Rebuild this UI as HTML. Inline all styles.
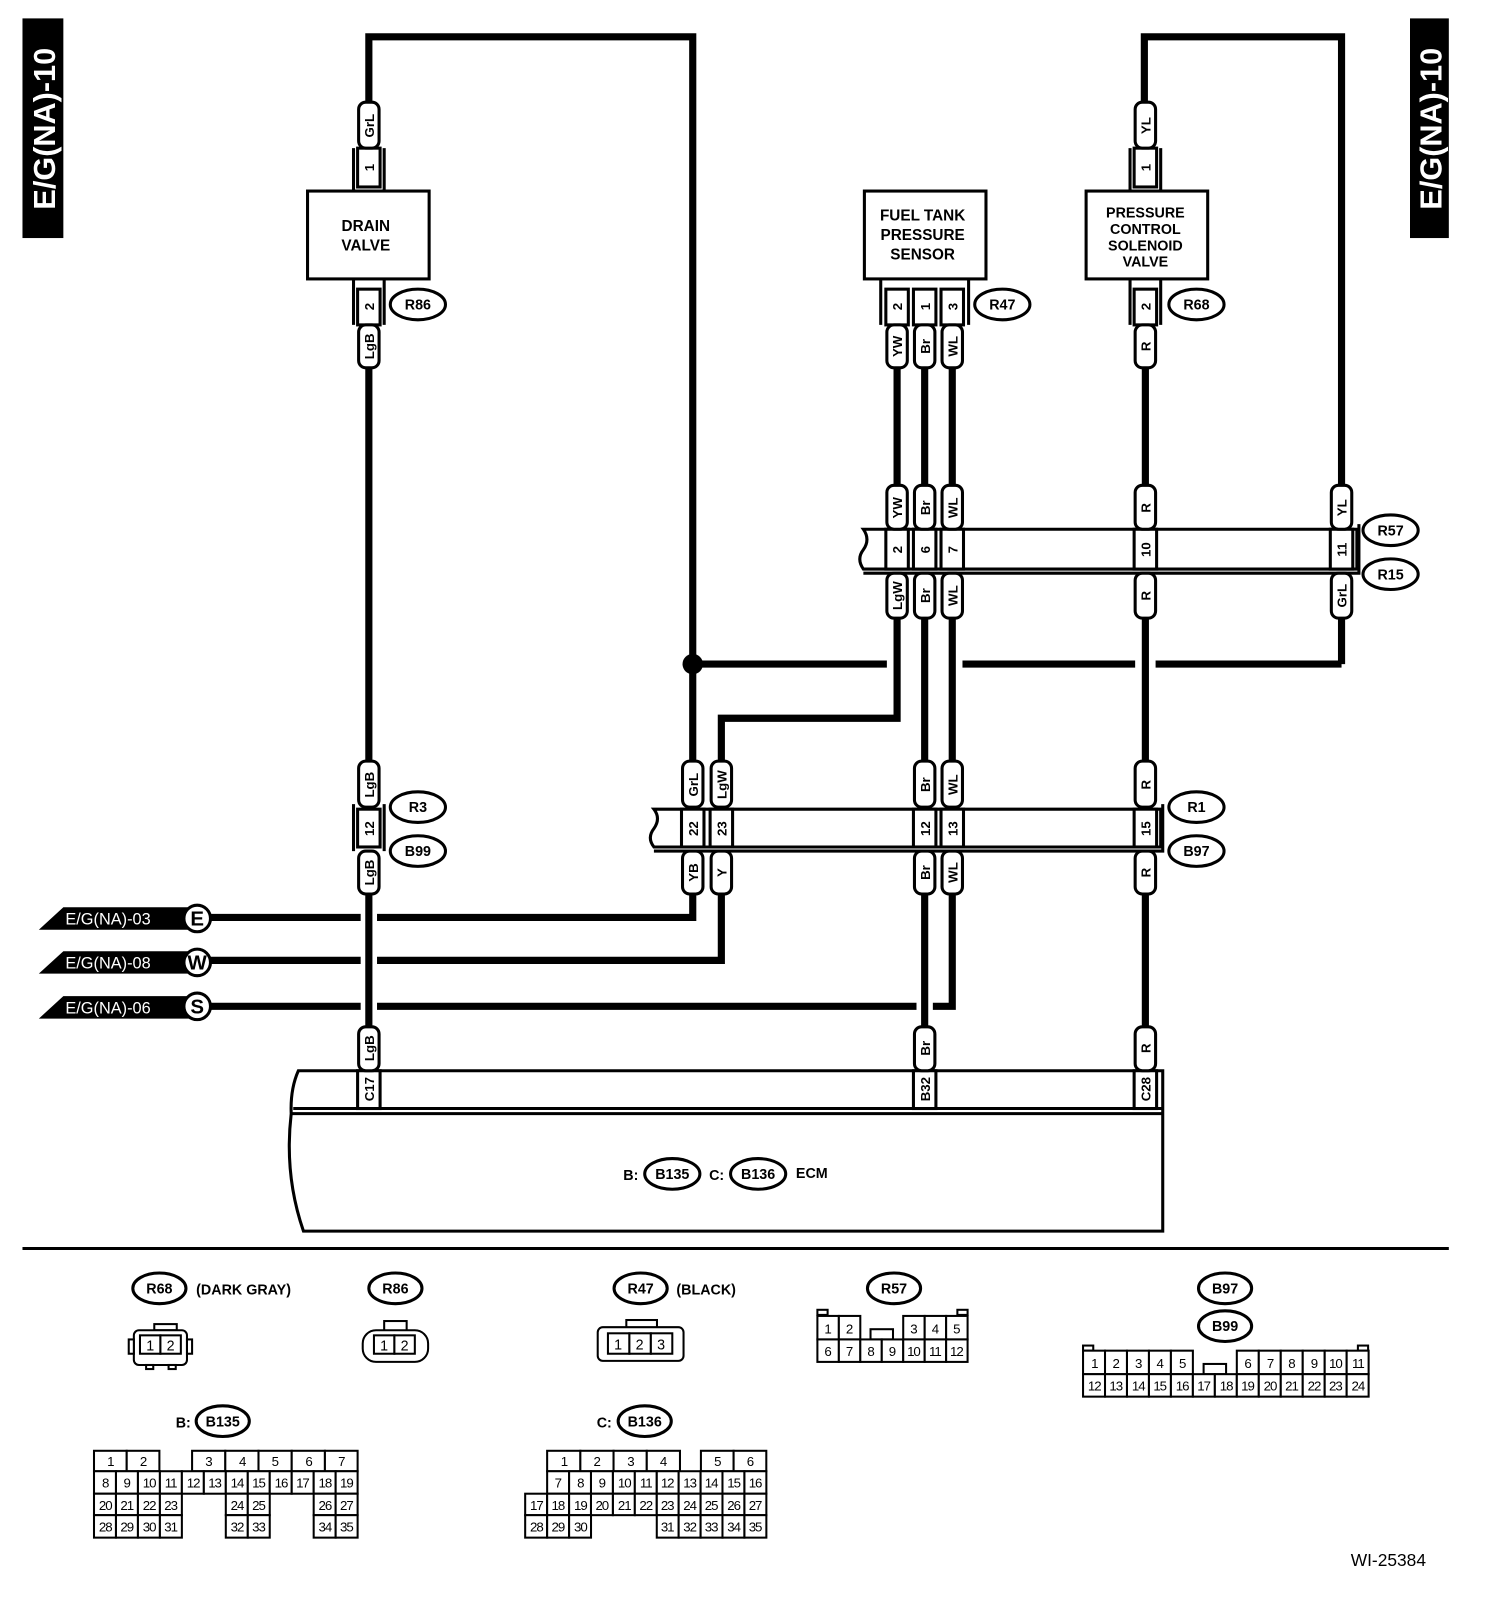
<!DOCTYPE html>
<html><head><meta charset="utf-8"><style>
html,body{margin:0;padding:0;background:#fff}
svg{display:block}
text{font-family:"Liberation Sans",Arial,sans-serif;fill:#000}
.t{font-size:13px;font-weight:bold;text-anchor:middle}
.b{font-size:15px;font-weight:bold;text-anchor:middle}
.w{fill:none;stroke:#000;stroke-width:7}
.o{fill:#fff;stroke:#000;stroke-width:3}
.g{fill:#fff;stroke:#000;stroke-width:2}
.n{font-size:14px;text-anchor:middle}
.m{font-size:13px;text-anchor:middle;letter-spacing:-1px}
</style></head><body>
<svg width="1504" height="1602" viewBox="0 0 1472 1568" preserveAspectRatio="none" xmlns="http://www.w3.org/2000/svg">
<rect x="0" y="0" width="1472" height="1568" fill="#fff"/>
<rect x="22" y="18" width="40" height="215" fill="#000"/>
<text transform="translate(54,126) rotate(-90)" style="font-size:30px;font-weight:bold;fill:#fff;text-anchor:middle">E/G(NA)-10</text>
<rect x="1380" y="18" width="38" height="215" fill="#000"/>
<text transform="translate(1411,126) rotate(-90)" style="font-size:30px;font-weight:bold;fill:#fff;text-anchor:middle">E/G(NA)-10</text>

<path class="w" d="M678,650 H1313"/>
<path class="w" d="M678,875 V898 H205"/>
<path class="w" d="M706,875 V940 H205"/>
<path class="w" d="M932,875 V985 H205"/>
<g fill="#fff">
<rect x="868" y="644" width="74" height="12"/><rect x="1111" y="644" width="20" height="12"/>
<rect x="353" y="892" width="16" height="12"/><rect x="353" y="934" width="16" height="12"/><rect x="353" y="979" width="16" height="12"/><rect x="897" y="979" width="16" height="12"/>
</g>
<path class="w" d="M361,100 V36 H678 V745"/>
<path class="w" d="M361,358 V745 M361,875 V1005"/>
<path class="w" d="M1313,605 V650 M1313,475 V36 H1120 V100"/>
<path class="w" d="M878,358 V475 M878,605 V703 H706 V745"/>
<path class="w" d="M905,358 V475 M905,605 V745 M905,875 V1005"/>
<path class="w" d="M932,358 V475 M932,605 V745"/>
<path class="w" d="M1121,318 V475 M1121,605 V745 M1121,875 V1005"/>
<circle cx="678" cy="650" r="10" fill="#000"/>

<rect x="301" y="187" width="119" height="86" class="o"/>
<text class="b" x="358" y="226">DRAIN</text><text class="b" x="358" y="245">VALVE</text>
<rect x="846" y="187" width="119" height="86" class="o"/>
<text class="b" x="903" y="216">FUEL TANK</text><text class="b" x="903" y="235">PRESSURE</text><text class="b" x="903" y="254">SENSOR</text>
<rect x="1063" y="187" width="119" height="86" class="o"/>
<text class="b" x="1121" y="213" style="font-size:14px">PRESSURE</text><text class="b" x="1121" y="229" style="font-size:14px">CONTROL</text><text class="b" x="1121" y="245" style="font-size:14px">SOLENOID</text><text class="b" x="1121" y="261" style="font-size:14px">VALVE</text>

<g stroke="#000" stroke-width="3" fill="none">
<path d="M346,145 V187 M376,145 V187 M346,273 V318 M376,273 V318"/>
<path d="M1106,145 V187 M1136,145 V187 M1106,273 V318 M1136,273 V318"/>
<path d="M862,273 V318 M948,273 V318"/>
<path d="M346,787 V833 M376,787 V833"/>
</g>
<g stroke="#000" stroke-width="3" fill="#fff">
<path d="M845,518 H1328 V557 H845 Q838,547 845,538 Q852,528 845,518 Z"/>
<path d="M845,561 H1330 V513" fill="none"/>
<path d="M640,792 H1136 V829 H640 Q633,820 640,811 Q647,801 640,792 Z"/>
<path d="M640,833 H1138 V787" fill="none"/>
<path d="M292,1048 H1138 V1205 H297 Q278,1150 285,1090 Q284,1066 292,1048 Z"/>
<path d="M287,1085 H1138 M285,1090 H1138" fill="none"/>
</g>

<g class="o">
<rect x="350" y="145" width="22" height="38"/><rect x="350" y="283" width="22" height="35"/>
<rect x="1110" y="145" width="22" height="38"/><rect x="1110" y="283" width="22" height="35"/>
<rect x="867" y="283" width="22" height="35"/><rect x="894" y="283" width="22" height="35"/><rect x="921" y="283" width="22" height="35"/>
<rect x="867" y="518" width="22" height="39"/><rect x="894" y="518" width="22" height="39"/><rect x="921" y="518" width="22" height="39"/><rect x="1110" y="518" width="22" height="39"/><rect x="1302" y="518" width="22" height="39"/>
<rect x="350" y="792" width="22" height="37"/><rect x="667" y="792" width="22" height="37"/><rect x="695" y="792" width="22" height="37"/><rect x="894" y="792" width="22" height="37"/><rect x="921" y="792" width="22" height="37"/><rect x="1110" y="792" width="22" height="37"/>
<rect x="350" y="1048" width="22" height="37"/><rect x="894" y="1048" width="22" height="37"/><rect x="1110" y="1048" width="22" height="37"/>
</g>
<g class="t">
<text transform="translate(366,164) rotate(-90)">1</text><text transform="translate(366,300) rotate(-90)">2</text>
<text transform="translate(1126,164) rotate(-90)">1</text><text transform="translate(1126,300) rotate(-90)">2</text>
<text transform="translate(883,300) rotate(-90)">2</text><text transform="translate(910,300) rotate(-90)">1</text><text transform="translate(937,300) rotate(-90)">3</text>
<text transform="translate(883,538) rotate(-90)">2</text><text transform="translate(910,538) rotate(-90)">6</text><text transform="translate(937,538) rotate(-90)">7</text><text transform="translate(1126,538) rotate(-90)">10</text><text transform="translate(1318,538) rotate(-90)">11</text>
<text transform="translate(366,811) rotate(-90)">12</text><text transform="translate(683,811) rotate(-90)">22</text><text transform="translate(711,811) rotate(-90)">23</text><text transform="translate(910,811) rotate(-90)">12</text><text transform="translate(937,811) rotate(-90)">13</text><text transform="translate(1126,811) rotate(-90)">15</text>
<text transform="translate(366,1066) rotate(-90)">C17</text><text transform="translate(910,1066) rotate(-90)">B32</text><text transform="translate(1126,1066) rotate(-90)">C28</text>
</g>

<g class="o">
<rect x="351" y="100" width="20" height="45" rx="7"/><rect x="351" y="318" width="20" height="42" rx="7"/>
<rect x="1111" y="100" width="20" height="45" rx="7"/><rect x="1111" y="318" width="20" height="42" rx="7"/>
<rect x="868" y="318" width="20" height="42" rx="7"/><rect x="895" y="318" width="20" height="42" rx="7"/><rect x="922" y="318" width="20" height="42" rx="7"/>
<rect x="868" y="475" width="20" height="43" rx="7"/><rect x="895" y="475" width="20" height="43" rx="7"/><rect x="922" y="475" width="20" height="43" rx="7"/><rect x="1111" y="475" width="20" height="43" rx="7"/><rect x="1303" y="475" width="20" height="43" rx="7"/>
<rect x="868" y="561" width="20" height="44" rx="7"/><rect x="895" y="561" width="20" height="44" rx="7"/><rect x="922" y="561" width="20" height="44" rx="7"/><rect x="1111" y="561" width="20" height="44" rx="7"/><rect x="1303" y="561" width="20" height="44" rx="7"/>
<rect x="351" y="745" width="20" height="45" rx="7"/><rect x="668" y="745" width="20" height="45" rx="7"/><rect x="696" y="745" width="20" height="45" rx="7"/><rect x="895" y="745" width="20" height="45" rx="7"/><rect x="922" y="745" width="20" height="45" rx="7"/><rect x="1111" y="745" width="20" height="45" rx="7"/>
<rect x="351" y="833" width="20" height="42" rx="7"/><rect x="668" y="833" width="20" height="42" rx="7"/><rect x="696" y="833" width="20" height="42" rx="7"/><rect x="895" y="833" width="20" height="42" rx="7"/><rect x="922" y="833" width="20" height="42" rx="7"/><rect x="1111" y="833" width="20" height="42" rx="7"/>
<rect x="351" y="1005" width="20" height="43" rx="7"/><rect x="895" y="1005" width="20" height="43" rx="7"/><rect x="1111" y="1005" width="20" height="43" rx="7"/>
</g>
<g class="t">
<text transform="translate(366,123) rotate(-90)">GrL</text><text transform="translate(366,339) rotate(-90)">LgB</text>
<text transform="translate(1126,123) rotate(-90)">YL</text><text transform="translate(1126,339) rotate(-90)">R</text>
<text transform="translate(883,339) rotate(-90)">YW</text><text transform="translate(910,339) rotate(-90)">Br</text><text transform="translate(937,339) rotate(-90)">WL</text>
<text transform="translate(883,497) rotate(-90)">YW</text><text transform="translate(910,497) rotate(-90)">Br</text><text transform="translate(937,497) rotate(-90)">WL</text><text transform="translate(1126,497) rotate(-90)">R</text><text transform="translate(1318,497) rotate(-90)">YL</text>
<text transform="translate(883,583) rotate(-90)">LgW</text><text transform="translate(910,583) rotate(-90)">Br</text><text transform="translate(937,583) rotate(-90)">WL</text><text transform="translate(1126,583) rotate(-90)">R</text><text transform="translate(1318,583) rotate(-90)">GrL</text>
<text transform="translate(366,768) rotate(-90)">LgB</text><text transform="translate(683,768) rotate(-90)">GrL</text><text transform="translate(711,768) rotate(-90)">LgW</text><text transform="translate(910,768) rotate(-90)">Br</text><text transform="translate(937,768) rotate(-90)">WL</text><text transform="translate(1126,768) rotate(-90)">R</text>
<text transform="translate(366,854) rotate(-90)">LgB</text><text transform="translate(683,854) rotate(-90)">YB</text><text transform="translate(711,854) rotate(-90)">Y</text><text transform="translate(910,854) rotate(-90)">Br</text><text transform="translate(937,854) rotate(-90)">WL</text><text transform="translate(1126,854) rotate(-90)">R</text>
<text transform="translate(366,1026) rotate(-90)">LgB</text><text transform="translate(910,1026) rotate(-90)">Br</text><text transform="translate(1126,1026) rotate(-90)">R</text>
</g>

<g class="o">
<ellipse cx="409" cy="298" rx="27" ry="15"/><ellipse cx="981" cy="298" rx="27" ry="15"/><ellipse cx="1171" cy="298" rx="27" ry="15"/>
<ellipse cx="1361" cy="519" rx="27" ry="15"/><ellipse cx="1361" cy="562" rx="27" ry="15"/>
<ellipse cx="409" cy="790" rx="27" ry="15"/><ellipse cx="409" cy="833" rx="27" ry="15"/>
<ellipse cx="1171" cy="790" rx="27" ry="15"/><ellipse cx="1171" cy="833" rx="27" ry="15"/>
<ellipse cx="658" cy="1149" rx="27" ry="15"/><ellipse cx="742" cy="1149" rx="27" ry="15"/>
</g>
<g class="t" style="font-size:14px">
<text x="409" y="303">R86</text><text x="981" y="303">R47</text><text x="1171" y="303">R68</text>
<text x="1361" y="524">R57</text><text x="1361" y="567">R15</text>
<text x="409" y="795">R3</text><text x="409" y="838">B99</text>
<text x="1171" y="795">R1</text><text x="1171" y="838">B97</text>
<text x="658" y="1154">B135</text><text x="742" y="1154">B136</text>
</g>
<text x="610" y="1155" style="font-size:14px;font-weight:bold">B:</text>
<text x="694" y="1155" style="font-size:14px;font-weight:bold">C:</text>
<text x="779" y="1153" style="font-size:14px;font-weight:bold">ECM</text>

<g>
<polygon points="38,910 62,888 185,888 185,910" fill="#000"/>
<polygon points="38,953 62,931 185,931 185,953" fill="#000"/>
<polygon points="38,997 62,975 185,975 185,997" fill="#000"/>
<text x="64" y="905" style="font-size:16px;fill:#fff">E/G(NA)-03</text>
<text x="64" y="948" style="font-size:16px;fill:#fff">E/G(NA)-08</text>
<text x="64" y="992" style="font-size:16px;fill:#fff">E/G(NA)-06</text>
<circle cx="193" cy="899" r="13" class="o"/><circle cx="193" cy="942" r="13" class="o"/><circle cx="193" cy="985" r="13" class="o"/>
<text x="193" y="906" style="font-size:20px;font-weight:bold;text-anchor:middle">E</text>
<text x="193" y="949" style="font-size:20px;font-weight:bold;text-anchor:middle">W</text>
<text x="193" y="992" style="font-size:20px;font-weight:bold;text-anchor:middle">S</text>
</g>

<line x1="22" y1="1222" x2="1418" y2="1222" stroke="#000" stroke-width="3"/>

<g class="o">
<ellipse cx="156" cy="1261" rx="26" ry="15"/><ellipse cx="387" cy="1261" rx="26" ry="15"/><ellipse cx="627" cy="1261" rx="26" ry="15"/><ellipse cx="875" cy="1261" rx="26" ry="15"/>
<ellipse cx="1199" cy="1261" rx="26" ry="15"/><ellipse cx="1199" cy="1298" rx="26" ry="15"/>
<ellipse cx="218" cy="1391" rx="26" ry="15"/><ellipse cx="631" cy="1391" rx="26" ry="15"/>
</g>
<g class="t" style="font-size:14px">
<text x="156" y="1266">R68</text><text x="387" y="1266">R86</text><text x="627" y="1266">R47</text><text x="875" y="1266">R57</text>
<text x="1199" y="1266">B97</text><text x="1199" y="1303">B99</text><text x="218" y="1396">B135</text><text x="631" y="1396">B136</text>
</g>
<text x="192" y="1267" style="font-size:14px;font-weight:bold">(DARK GRAY)</text>
<text x="662" y="1267" style="font-size:14px;font-weight:bold">(BLACK)</text>
<text x="172" y="1397" style="font-size:14px;font-weight:bold">B:</text>
<text x="584" y="1397" style="font-size:14px;font-weight:bold">C:</text>

<g class="g">
<rect x="151" y="1296" width="22" height="6"/>
<rect x="131" y="1302" width="52" height="34" rx="5"/>
<rect x="126" y="1311" width="5" height="14"/><rect x="183" y="1311" width="5" height="14"/>
<rect x="143" y="1336" width="7" height="4"/><rect x="165" y="1336" width="7" height="4"/>
<rect x="137" y="1307" width="20" height="18"/><rect x="157" y="1307" width="20" height="18"/>
</g>
<g class="g">
<rect x="376" y="1293" width="22" height="10"/>
<rect x="355" y="1302" width="64" height="31" rx="13"/>
<rect x="366" y="1307" width="20" height="18"/><rect x="386" y="1307" width="20" height="18"/>
</g>
<g class="g">
<rect x="613" y="1292" width="30" height="8"/>
<rect x="585" y="1299" width="84" height="33" rx="5"/>
<rect x="595" y="1305" width="21" height="20"/><rect x="616" y="1305" width="21" height="20"/><rect x="637" y="1305" width="21" height="20"/>
</g>
<g class="n">
<text x="147" y="1322">1</text><text x="167" y="1322">2</text>
<text x="376" y="1322">1</text><text x="396" y="1322">2</text>
<text x="605" y="1321">1</text><text x="626" y="1321">2</text><text x="647" y="1321">3</text>
</g>

<g class="g">
<rect x="800" y="1282" width="10" height="5"/><rect x="937" y="1282" width="10" height="5"/>
<rect x="800" y="1288" width="21" height="23"/><rect x="821" y="1288" width="21" height="23"/>
<rect x="852" y="1301" width="22" height="10"/>
<rect x="884" y="1288" width="21" height="23"/><rect x="905" y="1288" width="21" height="23"/><rect x="926" y="1288" width="21" height="23"/>
<rect x="800" y="1311" width="21" height="22"/><rect x="821" y="1311" width="21" height="22"/><rect x="842" y="1311" width="21" height="22"/><rect x="863" y="1311" width="21" height="22"/><rect x="884" y="1311" width="21" height="22"/><rect x="905" y="1311" width="21" height="22"/><rect x="926" y="1311" width="21" height="22"/>
</g>
<g class="m">
<text x="810" y="1305">1</text><text x="831" y="1305">2</text><text x="894" y="1305">3</text><text x="915" y="1305">4</text><text x="936" y="1305">5</text>
<text x="810" y="1327">6</text><text x="831" y="1327">7</text><text x="852" y="1327">8</text><text x="873" y="1327">9</text><text x="894" y="1327">10</text><text x="915" y="1327">11</text><text x="936" y="1327">12</text>
</g>

<g class="g">
<rect x="1060" y="1317" width="10" height="5"/><rect x="1329" y="1317" width="10" height="5"/>
<rect x="1060" y="1322" width="21.5" height="23"/><rect x="1081.5" y="1322" width="21.5" height="23"/><rect x="1103" y="1322" width="21.5" height="23"/><rect x="1124.5" y="1322" width="21.5" height="23"/><rect x="1146" y="1322" width="21.5" height="23"/>
<rect x="1178" y="1335" width="22" height="10"/>
<rect x="1210.5" y="1322" width="21.5" height="23"/><rect x="1232" y="1322" width="21.5" height="23"/><rect x="1253.5" y="1322" width="21.5" height="23"/><rect x="1275" y="1322" width="21.5" height="23"/><rect x="1296.5" y="1322" width="21.5" height="23"/><rect x="1318" y="1322" width="21.5" height="23"/>
<rect x="1060" y="1345" width="21.5" height="22"/><rect x="1081.5" y="1345" width="21.5" height="22"/><rect x="1103" y="1345" width="21.5" height="22"/><rect x="1124.5" y="1345" width="21.5" height="22"/><rect x="1146" y="1345" width="21.5" height="22"/><rect x="1167.5" y="1345" width="21.5" height="22"/><rect x="1189" y="1345" width="21.5" height="22"/><rect x="1210.5" y="1345" width="21.5" height="22"/><rect x="1232" y="1345" width="21.5" height="22"/><rect x="1253.5" y="1345" width="21.5" height="22"/><rect x="1275" y="1345" width="21.5" height="22"/><rect x="1296.5" y="1345" width="21.5" height="22"/><rect x="1318" y="1345" width="21.5" height="22"/>
</g>
<g class="m">
<text x="1071" y="1339">1</text><text x="1092" y="1339">2</text><text x="1114" y="1339">3</text><text x="1135" y="1339">4</text><text x="1157" y="1339">5</text>
<text x="1221" y="1339">6</text><text x="1243" y="1339">7</text><text x="1264" y="1339">8</text><text x="1286" y="1339">9</text><text x="1307" y="1339">10</text><text x="1329" y="1339">11</text>
<text x="1071" y="1361">12</text><text x="1092" y="1361">13</text><text x="1114" y="1361">14</text><text x="1135" y="1361">15</text><text x="1157" y="1361">16</text><text x="1178" y="1361">17</text><text x="1200" y="1361">18</text><text x="1221" y="1361">19</text><text x="1243" y="1361">20</text><text x="1264" y="1361">21</text><text x="1286" y="1361">22</text><text x="1307" y="1361">23</text><text x="1329" y="1361">24</text>
</g>

<g class="g">
<rect x="92" y="1420" width="32" height="20"/><rect x="124" y="1420" width="32" height="20"/>
<rect x="188" y="1420" width="32.5" height="20"/><rect x="220.5" y="1420" width="32.5" height="20"/><rect x="253" y="1420" width="32.5" height="20"/><rect x="285.5" y="1420" width="32.5" height="20"/><rect x="318" y="1420" width="32" height="20"/>
<rect x="92" y="1440" width="21.5" height="22"/><rect x="113.5" y="1440" width="21.5" height="22"/><rect x="135" y="1440" width="21.5" height="22"/><rect x="156.5" y="1440" width="21.5" height="22"/><rect x="178" y="1440" width="21.5" height="22"/><rect x="199.5" y="1440" width="21.5" height="22"/><rect x="221" y="1440" width="21.5" height="22"/><rect x="242.5" y="1440" width="21.5" height="22"/><rect x="264" y="1440" width="21.5" height="22"/><rect x="285.5" y="1440" width="21.5" height="22"/><rect x="307" y="1440" width="21.5" height="22"/><rect x="328.5" y="1440" width="21.5" height="22"/>
<rect x="92" y="1462" width="21.5" height="21"/><rect x="113.5" y="1462" width="21.5" height="21"/><rect x="135" y="1462" width="21.5" height="21"/><rect x="156.5" y="1462" width="21.5" height="21"/><rect x="221" y="1462" width="21.5" height="21"/><rect x="242.5" y="1462" width="21.5" height="21"/><rect x="307" y="1462" width="21.5" height="21"/><rect x="328.5" y="1462" width="21.5" height="21"/>
<rect x="92" y="1483" width="21.5" height="22"/><rect x="113.5" y="1483" width="21.5" height="22"/><rect x="135" y="1483" width="21.5" height="22"/><rect x="156.5" y="1483" width="21.5" height="22"/><rect x="221" y="1483" width="21.5" height="22"/><rect x="242.5" y="1483" width="21.5" height="22"/><rect x="307" y="1483" width="21.5" height="22"/><rect x="328.5" y="1483" width="21.5" height="22"/>
</g>
<g class="m">
<text x="108" y="1435">1</text><text x="140" y="1435">2</text><text x="204" y="1435">3</text><text x="237" y="1435">4</text><text x="269" y="1435">5</text><text x="302" y="1435">6</text><text x="334" y="1435">7</text>
<text x="103" y="1456">8</text><text x="124" y="1456">9</text><text x="146" y="1456">10</text><text x="167" y="1456">11</text><text x="189" y="1456">12</text><text x="210" y="1456">13</text><text x="232" y="1456">14</text><text x="253" y="1456">15</text><text x="275" y="1456">16</text><text x="296" y="1456">17</text><text x="318" y="1456">18</text><text x="339" y="1456">19</text>
<text x="103" y="1478">20</text><text x="124" y="1478">21</text><text x="146" y="1478">22</text><text x="167" y="1478">23</text><text x="232" y="1478">24</text><text x="253" y="1478">25</text><text x="318" y="1478">26</text><text x="339" y="1478">27</text>
<text x="103" y="1499">28</text><text x="124" y="1499">29</text><text x="146" y="1499">30</text><text x="167" y="1499">31</text><text x="232" y="1499">32</text><text x="253" y="1499">33</text><text x="318" y="1499">34</text><text x="339" y="1499">35</text>
</g>

<g class="g">
<rect x="535.5" y="1420" width="32.5" height="20"/><rect x="568" y="1420" width="32.5" height="20"/><rect x="600.5" y="1420" width="32.5" height="20"/><rect x="633" y="1420" width="32.5" height="20"/>
<rect x="686" y="1420" width="32" height="20"/><rect x="718" y="1420" width="32" height="20"/>
<rect x="535.5" y="1440" width="21.45" height="22"/><rect x="557" y="1440" width="21.45" height="22"/><rect x="578.4" y="1440" width="21.45" height="22"/><rect x="599.9" y="1440" width="21.45" height="22"/><rect x="621.3" y="1440" width="21.45" height="22"/><rect x="642.8" y="1440" width="21.45" height="22"/><rect x="664.2" y="1440" width="21.45" height="22"/><rect x="685.7" y="1440" width="21.45" height="22"/><rect x="707.1" y="1440" width="21.45" height="22"/><rect x="728.6" y="1440" width="21.45" height="22"/>
<rect x="514" y="1462" width="21.45" height="21"/><rect x="535.5" y="1462" width="21.45" height="21"/><rect x="557" y="1462" width="21.45" height="21"/><rect x="578.4" y="1462" width="21.45" height="21"/><rect x="599.9" y="1462" width="21.45" height="21"/><rect x="621.3" y="1462" width="21.45" height="21"/><rect x="642.8" y="1462" width="21.45" height="21"/><rect x="664.2" y="1462" width="21.45" height="21"/><rect x="685.7" y="1462" width="21.45" height="21"/><rect x="707.1" y="1462" width="21.45" height="21"/><rect x="728.6" y="1462" width="21.45" height="21"/>
<rect x="514" y="1483" width="21.45" height="22"/><rect x="535.5" y="1483" width="21.45" height="22"/><rect x="557" y="1483" width="21.45" height="22"/>
<rect x="642.8" y="1483" width="21.45" height="22"/><rect x="664.2" y="1483" width="21.45" height="22"/><rect x="685.7" y="1483" width="21.45" height="22"/><rect x="707.1" y="1483" width="21.45" height="22"/><rect x="728.6" y="1483" width="21.45" height="22"/>
</g>
<g class="m">
<text x="552" y="1435">1</text><text x="584" y="1435">2</text><text x="617" y="1435">3</text><text x="649" y="1435">4</text><text x="702" y="1435">5</text><text x="734" y="1435">6</text>
<text x="546" y="1456">7</text><text x="568" y="1456">8</text><text x="589" y="1456">9</text><text x="611" y="1456">10</text><text x="632" y="1456">11</text><text x="653" y="1456">12</text><text x="675" y="1456">13</text><text x="696" y="1456">14</text><text x="718" y="1456">15</text><text x="739" y="1456">16</text>
<text x="525" y="1478">17</text><text x="546" y="1478">18</text><text x="568" y="1478">19</text><text x="589" y="1478">20</text><text x="611" y="1478">21</text><text x="632" y="1478">22</text><text x="653" y="1478">23</text><text x="675" y="1478">24</text><text x="696" y="1478">25</text><text x="718" y="1478">26</text><text x="739" y="1478">27</text>
<text x="525" y="1499">28</text><text x="546" y="1499">29</text><text x="568" y="1499">30</text>
<text x="653" y="1499">31</text><text x="675" y="1499">32</text><text x="696" y="1499">33</text><text x="718" y="1499">34</text><text x="739" y="1499">35</text>
</g>

<text x="1322" y="1533" style="font-size:17px">WI-25384</text>
</svg>
</body></html>
